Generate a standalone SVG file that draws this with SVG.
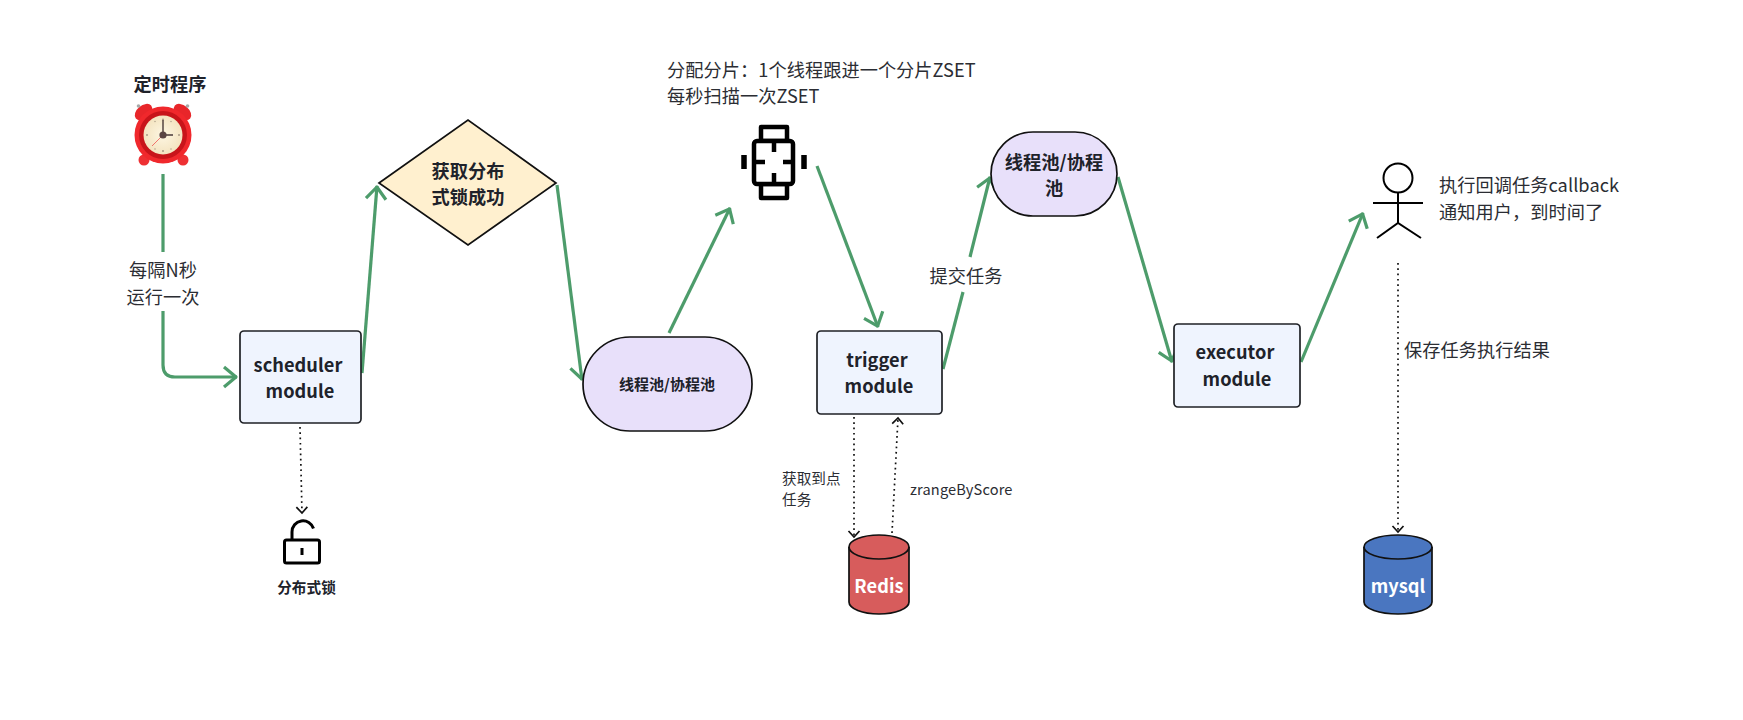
<svg xmlns="http://www.w3.org/2000/svg" width="1743" height="720" viewBox="0 0 1743 720">
<style>
text{font-family:"Noto Sans CJK SC","Noto Sans",sans-serif;fill:#2b2d33;font-size:18.2px;letter-spacing:.06px}
.b{font-weight:700;fill:#20222a}
.m{text-anchor:middle}
.s{font-size:14.6px}
.box{fill:#eff4fe;stroke:#1f2126;stroke-width:1.7}
.pill{fill:#e8e0fa;stroke:#111;stroke-width:1.7}
.flow{fill:none;stroke:#4d9c6b;stroke-width:3.2;marker-end:url(#ga)}
.plain{fill:none;stroke:#4d9c6b;stroke-width:3.2}
.dot{fill:none;stroke:#111;stroke-width:1.7;stroke-dasharray:1.7 3.6;marker-end:url(#da)}
.ink{fill:none;stroke:#000;stroke-width:2}
.icon{fill:none;stroke:#000;stroke-width:4.5;stroke-linejoin:round}
.lock{fill:none;stroke:#000;stroke-width:3;stroke-linejoin:round}
.w{fill:#fff;font-weight:700}
.tick{fill:#a89a86}
</style>
<defs>
<marker id="ga" markerUnits="userSpaceOnUse" markerWidth="30" markerHeight="30" refX="15" refY="12" orient="auto"><path d="M2,2 L14,12 L2,22" fill="none" stroke="#4d9c6b" stroke-width="3.2" stroke-linejoin="round"/></marker>
<marker id="da" markerUnits="userSpaceOnUse" markerWidth="14" markerHeight="16" refX="8" refY="7" orient="auto"><path d="M2,1.5 L8,7 L2,12.5" fill="none" stroke="#111" stroke-width="1.7"/></marker>
<radialGradient id="face" cx="50%" cy="50%" r="55%"><stop offset="0" stop-color="#fdf6e2"/><stop offset="1" stop-color="#f3e2bd"/></radialGradient>
</defs>

<g id="connectors">
<path class="plain" d="M163,174 V252"/>
<path class="flow" d="M163,311 V365 Q163,377 175,377 H237"/>
<path class="flow" d="M362,373 L377,186"/>
<path class="flow" d="M557,185 L582,380"/>
<path class="flow" d="M669,333 L730,208"/>
<path class="flow" d="M817,166 L878,327"/>
<path class="plain" d="M943,369 L963,292"/>
<path class="flow" d="M970,257 L990,177"/>
<path class="flow" d="M1118,177 L1172,362"/>
<path class="flow" d="M1301,362 L1363,213"/>
<path class="dot" d="M300,427 L302,513"/>
<path class="dot" d="M854,417 V537"/>
<path class="dot" d="M892,533 L898,418"/>
<path class="dot" d="M1398,263 V532"/>
</g>

<g id="timer">
<text class="b m" x="170" y="91">定时程序</text>
<ellipse cx="143.500" cy="112" rx="10" ry="6.500" transform="rotate(-40 143.500 112)" fill="#e8262a"/>
<ellipse cx="182.500" cy="112" rx="10" ry="6.500" transform="rotate(40 182.500 112)" fill="#e8262a"/>
<circle cx="138.500" cy="106" r="1.800" fill="#a8a8a8"/>
<circle cx="187.500" cy="106" r="1.800" fill="#a8a8a8"/>
<circle cx="144" cy="160" r="5.500" fill="#ee3033"/>
<circle cx="183" cy="160" r="5.500" fill="#ee3033"/>
<circle cx="163" cy="135" r="28.500" fill="#f0282c"/>
<circle cx="163" cy="135" r="24" fill="#c8141a"/>
<circle cx="163" cy="135" r="19.500" fill="url(#face)"/>
<circle class="tick" cx="163" cy="119.500" r="1"/><circle class="tick" cx="163" cy="151" r="1"/><circle class="tick" cx="147" cy="135" r="1"/><circle class="tick" cx="179" cy="135" r="1"/>
<circle class="tick" cx="171" cy="121.500" r=".7"/><circle class="tick" cx="155" cy="121.500" r=".7"/><circle class="tick" cx="171" cy="149" r=".7"/><circle class="tick" cx="155" cy="149" r=".7"/>
<path d="M152,146 L165,133" stroke="#ee4040" stroke-width="0.7" fill="none"/>
<path d="M163,135 L163,120 M163,135 L173,135" stroke="#4a3a38" stroke-width="1.400" fill="none"/>
<circle cx="163" cy="135" r="3.600" fill="#5a4644"/>
</g>

<g id="label-interval">
<text class="m" x="163" y="277">每隔N秒</text>
<text class="m" x="163" y="304">运行一次</text>
</g>

<g id="scheduler">
<rect class="box" x="240" y="331" width="121" height="92" rx="4"/>
<text class="b m" x="298" y="372">scheduler</text>
<text class="b m" x="300" y="398">module</text>
</g>

<g id="lock-decision">
<path d="M379,183 L468,120 L556,183 L468,245 Z" fill="#fff0cf" stroke="#111" stroke-width="1.700"/>
<text class="b m" x="468" y="178">获取分布</text>
<text class="b m" x="468" y="204">式锁成功</text>
</g>

<g id="dist-lock">
<rect class="lock" x="284.500" y="540" width="35" height="23" rx="2"/>
<path class="lock" d="M292,540 V532 A11,11 0 0 1 313.500,528.500"/>
<rect x="300.500" y="548" width="3" height="7" fill="#000"/>
<text class="b m s" x="306.500" y="593">分布式锁</text>
</g>

<g id="pool-1">
<rect class="pill" x="583" y="337" width="169" height="94" rx="47"/>
<text class="b m" style="font-size:15px" x="667" y="389.500">线程池/协程池</text>
</g>

<g id="shard-note">
<text x="667" y="77">分配分片：1个线程跟进一个分片ZSET</text>
<text x="667" y="103">每秒扫描一次ZSET</text>
</g>

<g id="watch">
<rect class="icon" x="761" y="127" width="26" height="14"/>
<rect class="icon" x="761" y="184" width="26" height="14"/>
<rect x="754" y="141" width="39" height="43" rx="3" fill="#fff" stroke="#000" stroke-width="4.500"/>
<path d="M774,143 V152 M774,173 V182 M756,162 H765 M783,162 H792" stroke="#000" stroke-width="4.500" fill="none"/>
<path d="M744,155 V169 M804,155 V169" stroke="#000" stroke-width="5.500" fill="none"/>
</g>

<g id="trigger">
<rect class="box" x="817" y="331" width="125" height="83" rx="4"/>
<text class="b m" x="877" y="367">trigger</text>
<text class="b m" x="879" y="393">module</text>
</g>

<g id="label-submit">
<text class="m" x="966" y="283">提交任务</text>
</g>

<g id="pool-2">
<rect class="pill" x="991" y="132" width="126" height="84" rx="42"/>
<text class="b m" x="1054" y="169">线程池/协程</text>
<text class="b m" x="1054" y="195">池</text>
</g>

<g id="executor">
<rect class="box" x="1174" y="324" width="126" height="83" rx="4"/>
<text class="b m" x="1235" y="359">executor</text>
<text class="b m" x="1237" y="386">module</text>
</g>

<g id="actor">
<circle class="ink" cx="1398" cy="178" r="14.500"/>
<path class="ink" d="M1398,192.500 V223 M1373,203 H1423 M1377,238 L1398,223 L1421,238"/>
</g>

<g id="callback-note">
<text x="1439" y="192">执行回调任务callback</text>
<text x="1439" y="219">通知用户，到时间了</text>
</g>

<g id="label-save">
<text x="1404" y="357">保存任务执行结果</text>
</g>

<g id="label-fetch">
<text class="s" x="782" y="484">获取到点</text>
<text class="s" x="782" y="505">任务</text>
</g>
<g id="label-zrange">
<text class="s" x="910" y="495" style="letter-spacing:.15px">zrangeByScore</text>
</g>

<g id="redis">
<path d="M849,547 A30,12 0 0 1 909,547 V602 A30,12 0 0 1 849,602 Z" fill="#d75c5c" stroke="#111" stroke-width="1.700"/>
<path d="M849,547 A30,12 0 0 0 909,547" fill="none" stroke="#111" stroke-width="1.700"/>
<text class="w m" x="879" y="593">Redis</text>
</g>

<g id="mysql">
<path d="M1364,547 A34,12 0 0 1 1432,547 V602 A34,12 0 0 1 1364,602 Z" fill="#4a76c0" stroke="#111" stroke-width="1.700"/>
<path d="M1364,547 A34,12 0 0 0 1432,547" fill="none" stroke="#111" stroke-width="1.700"/>
<text class="w m" x="1398" y="593">mysql</text>
</g>
</svg>
